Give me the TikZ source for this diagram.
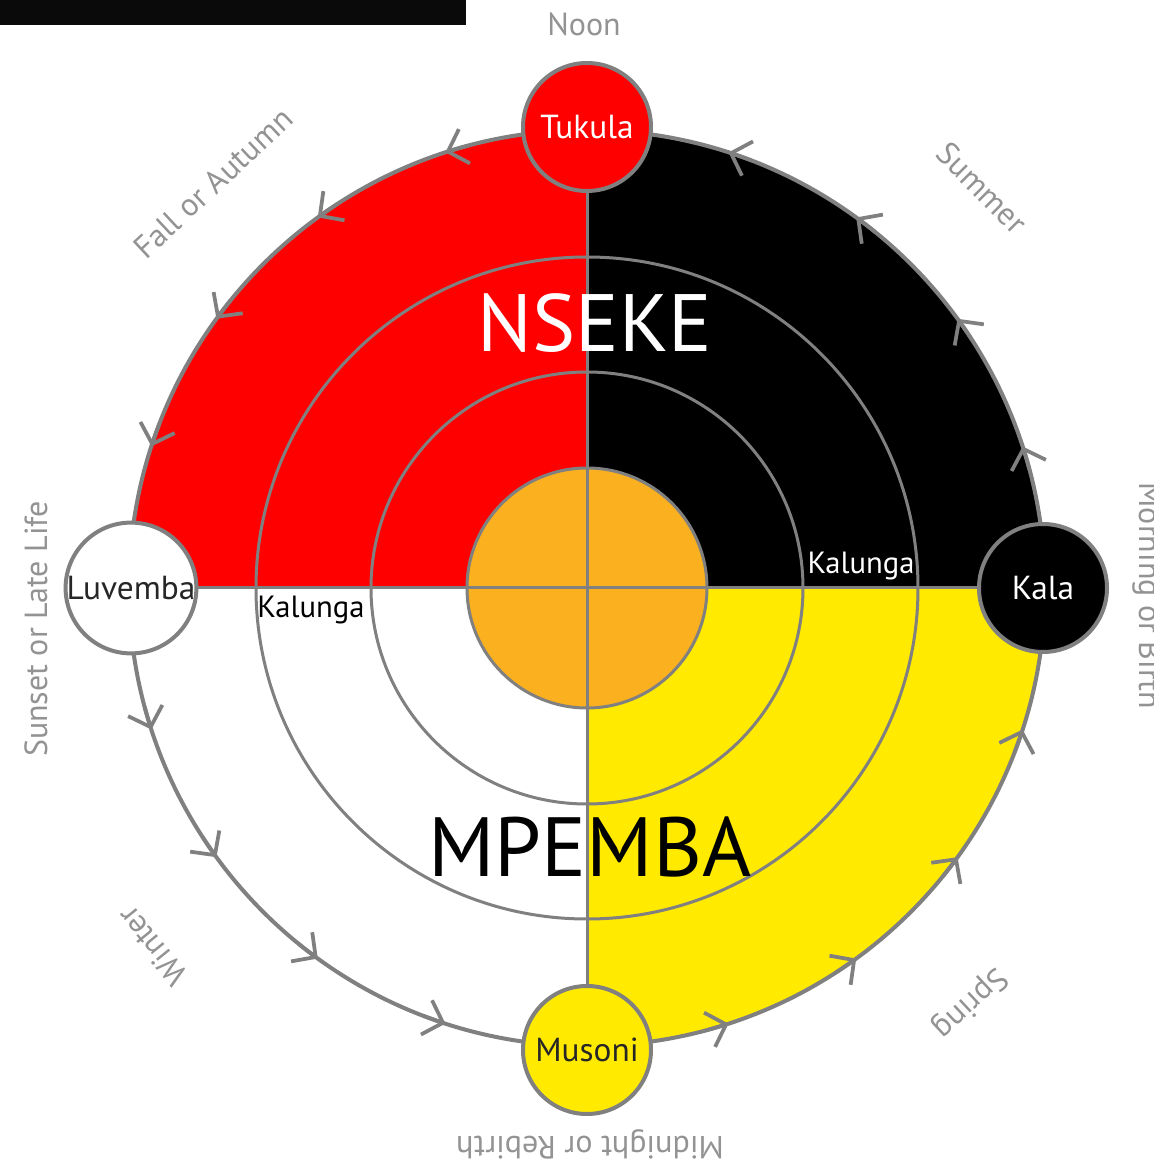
\documentclass[tikz,border=0pt]{standalone}
\usepackage{fontspec}
\setmainfont{PT Sans}
\usetikzlibrary{arrows.meta}

\definecolor{nsekered}{HTML}{FF0000}
\definecolor{musoniyellow}{HTML}{FFEA00}
\definecolor{centreorange}{HTML}{FAB01F}
\definecolor{ringgray}{HTML}{808080}
\definecolor{labelgray}{HTML}{939393}
\definecolor{bannerblack}{HTML}{0A0A0A}

\tikzset{
  ring/.style={draw=ringgray, line width=2.25pt},
  rim/.style={draw=ringgray, line width=3pt},
  flowtip/.style={draw=ringgray, line width=2.8pt, -{Straight Barb[length=13pt, width=27pt]}},
  station/.style={circle, draw=ringgray, line width=3pt, minimum size=96pt, inner sep=0pt,
    font=\fontsize{25}{25}\selectfont},
  timelabel/.style={text=labelgray, inner sep=0pt, font=\fontsize{24}{24}\selectfont},
  kalunga/.style={inner sep=0pt, font=\fontsize{23}{23}\selectfont},
  realm/.style={inner sep=0pt, font=\fontsize{61}{61}\selectfont}
}

\begin{document}
\begin{tikzpicture}[x=0.75pt, y=0.75pt]
  \fill[white] (-587,-582) rectangle (566,588);
  \useasboundingbox (-587,-582) rectangle (566,588);

  % banner, cut off at the top
  \fill[bannerblack] (-587,588) rectangle (-121,563);

  \coordinate (N) at (0,461);
  \coordinate (S) at (0,-462);
  \coordinate (E) at (456,0);
  \coordinate (W) at (-456,0);

  % the four quarters
  \fill[nsekered] (0,0) -- (90:458) arc (90:180:458) -- cycle;
  \fill[black] (0,0) -- (0:458) arc (0:90:458) -- cycle;
  \fill[musoniyellow] (0,0) -- (270:458) arc (270:360:458) -- cycle;

  \draw[ring] (0,0) circle (331);
  \draw[ring] (0,0) circle (216);
  \draw[ring, fill=centreorange] (0,0) circle (120);
  \draw[ring] (W) -- (E);
  \draw[ring] (N) -- (S);

  % the path of the sun, counter-clockwise
  \draw[rim] (0,0) circle (458);
  \foreach \a in {18,36,...,342}
    \draw[flowtip] (\a-3:458) arc (\a-3:\a:458);

  \node[station, fill=nsekered, text=white] (tukula) at (N) {Tukula};
  \node[station, fill=black, text=white] (kala) at (E) {Kala};
  \node[station, fill=musoniyellow, text=black!85] (musoni) at (S) {Musoni};
  \node[station, fill=white, text=black!85] (luvemba) at (W) {Luvemba};

  \node[realm, text=white] (nseke) at (8,265) {NSEKE};
  \node[realm, text=black, font=\fontsize{63}{63}\selectfont] (mpemba) at (3,-259) {MPEMBA};
  \node[kalunga, text=black] (kalungaw) at (-276,-22) {Kalunga};
  \node[kalunga, text=white] (kalungae) at (274,22) {Kalunga};

  \node[timelabel] (noon) at (-3,564) {Noon};
  \node[timelabel, rotate=-45] (summer) at (395,400) {Summer};
  \node[timelabel, rotate=43] (fall) at (-374,405) {Fall or Autumn};
  \node[timelabel, rotate=90] (sunset) at (-551,-41) {Sunset or Late Life};
  \node[timelabel, rotate=-90] (morning) at (560,-8) {Morning or Birth};
  \node[timelabel, rotate=129] (winter) at (-435,-358) {Winter};
  \node[timelabel, rotate=180] (midnight) at (3,-556) {Midnight or Rebirth};
  \node[timelabel, rotate=-137] (spring) at (383,-415) {Spring};
\end{tikzpicture}
\end{document}
